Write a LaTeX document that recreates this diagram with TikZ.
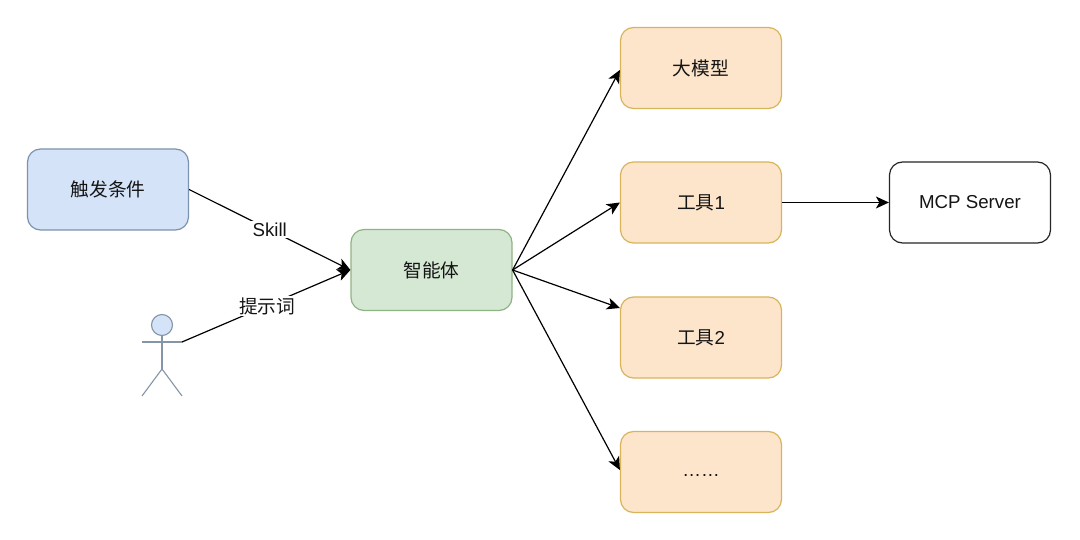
\documentclass[tikz,border=0pt]{standalone}
\usepackage{fontspec}
\setmainfont{Liberation Sans}
\newfontfamily\cjk{Noto Sans CJK SC}
\usetikzlibrary{arrows.meta}
\definecolor{bluefill}{HTML}{D4E3F8}
\definecolor{blueline}{HTML}{7C93AF}
\definecolor{greenfill}{HTML}{D5E8D4}
\definecolor{greenline}{HTML}{8FB384}
\definecolor{orangefill}{HTML}{FDE5CC}
\definecolor{orangeline}{HTML}{D8B45A}
\definecolor{figline}{HTML}{8496A6}
\tikzset{
  x=1pt,y=-1pt,
  box/.style={rounded corners=13pt,minimum width=161pt,minimum height=81pt,inner sep=0pt,line width=1.2pt,font=\fontsize{18.7}{22}\selectfont,text=black!92},
  bluebox/.style={box,draw=blueline,fill=bluefill},
  greenbox/.style={box,draw=greenline,fill=greenfill},
  orangebox/.style={box,draw=orangeline,fill=orangefill},
  whitebox/.style={box,draw=black!85,fill=white},
  conn/.style={draw=black,line width=1.2pt,-{Stealth[length=13pt,width=12pt,inset=3.5pt]}},
  edgelabel/.style={fill=white,inner sep=1.5pt,font=\fontsize{18.7}{22}\selectfont,text=black!92},
  figure/.style={draw=figline,line width=1.1pt},
}
\begin{document}
\begin{tikzpicture}
\useasboundingbox[fill=white] (0,0) rectangle (1080,540);
\node[bluebox] (trigger) at (108,189.5) {\raisebox{1pt}{\cjk 触发条件}};
\node[greenbox] (agent) at (431.5,270) {\cjk 智能体};
\node[orangebox] (llm) at (701,68) {\cjk 大模型};
\node[orangebox] (tool1) at (701,202.5) {{\cjk 工具}1};
\node[orangebox] (tool2) at (701,337.5) {{\cjk 工具}2};
\node[orangebox] (more) at (701,472) {\raisebox{-4.5pt}[0pt][0pt]{……}};
\node[whitebox] (mcp) at (970,202.5) {MCP Server};
% stick figure
\node[circle,draw=figline,fill=bluefill,line width=1.1pt,minimum size=21pt,inner sep=0pt] (head) at (162,325) {};
\coordinate (armL) at (142,342);
\coordinate (armR) at (182,342);
\coordinate (hip) at (162,369);
\coordinate (footL) at (142,396);
\coordinate (footR) at (182,396);
\draw[figure] (head.south) -- (hip);
\draw[figure] (armL) -- (armR);
\draw[figure] (footL) -- (hip) -- (footR);
% connectors
\draw[conn] (trigger.east) -- node[edgelabel]{Skill} (agent.west);
\draw[conn] (armR) -- node[edgelabel,xshift=1pt]{\cjk 提示词} (agent.west);
\draw[conn] (agent.east) -- ([yshift=-2pt]llm.west);
\draw[conn] (agent.east) -- (tool1.west);
\draw[conn] (agent.east) -- ([yshift=29.5pt]tool2.west);
\draw[conn] (agent.east) -- ([yshift=2pt]more.west);
\draw[conn] (tool1.east) -- (mcp.west);
\end{tikzpicture}
\end{document}
